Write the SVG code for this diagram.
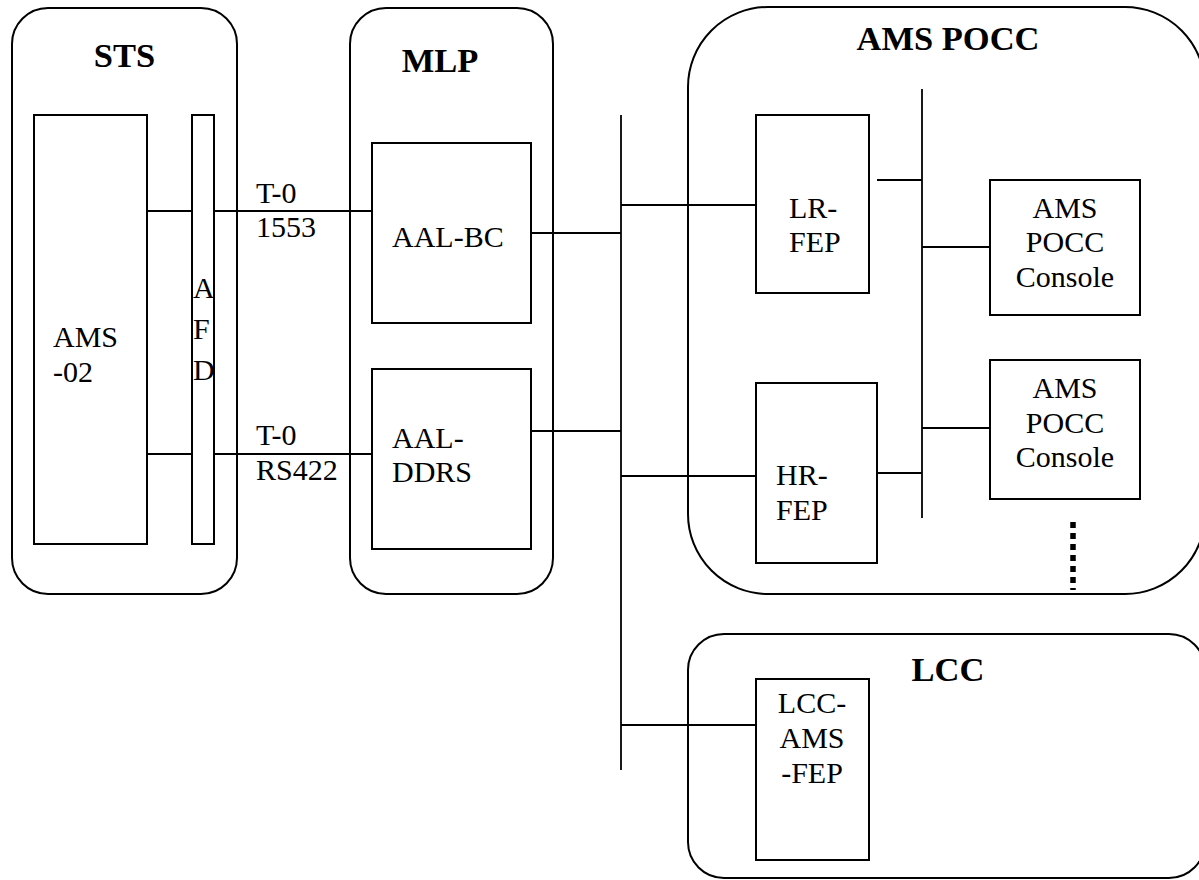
<svg xmlns="http://www.w3.org/2000/svg" width="1199" height="880" viewBox="0 0 1199 880">
<style>
.c{fill:none;stroke:#000;stroke-width:2}
.b{fill:#fff;stroke:#000;stroke-width:2}
.l{stroke:#000;stroke-width:1.8;fill:none}
.t{font-family:"Liberation Serif","Times New Roman",serif;font-size:30px;fill:#000}
.h{font-family:"Liberation Serif","Times New Roman",serif;font-size:34.5px;font-weight:bold;fill:#000}
.m{text-anchor:middle}
</style>
<rect width="1199" height="880" fill="#fff"/>
<g id="sts">
<rect class="c" x="12" y="8" width="225" height="586" rx="36"/>
<text class="h m" x="124.5" y="67">STS</text>
</g>
<g id="mlp">
<rect class="c" x="350" y="8" width="203" height="586" rx="36"/>
<text class="h m" x="440" y="72">MLP</text>
</g>
<g id="amspocc">
<rect class="c" x="688" y="7" width="517" height="587" rx="80"/>
<text class="h m" x="948" y="50">AMS POCC</text>
</g>
<g id="lcc">
<rect class="c" x="688" y="634" width="517" height="244" rx="36"/>
<text class="h m" x="948" y="681">LCC</text>
</g>
<g id="connectors">
<line class="l" x1="147" y1="211" x2="192" y2="211"/>
<line class="l" x1="214" y1="211" x2="372" y2="211"/>
<line class="l" x1="147" y1="454" x2="192" y2="454"/>
<line class="l" x1="214" y1="454" x2="372" y2="454"/>
<line class="l" x1="531" y1="233" x2="621" y2="233"/>
<line class="l" x1="531" y1="431" x2="621" y2="431"/>
<line class="l" x1="621" y1="115" x2="621" y2="770"/>
<line class="l" x1="621" y1="205" x2="756" y2="205"/>
<line class="l" x1="621" y1="476" x2="756" y2="476"/>
<line class="l" x1="621" y1="725" x2="756" y2="725"/>
<line class="l" x1="922" y1="89" x2="922" y2="518"/>
<line class="l" x1="877" y1="180" x2="922" y2="180"/>
<line class="l" x1="877" y1="473" x2="922" y2="473"/>
<line class="l" x1="922" y1="247" x2="990" y2="247"/>
<line class="l" x1="922" y1="428" x2="990" y2="428"/>
<line x1="1073" y1="522" x2="1073" y2="590" stroke="#000" stroke-width="5.5" stroke-dasharray="6 5"/>
</g>
<g id="ams02">
<rect class="b" x="34" y="115" width="113" height="429"/>
<text class="t" x="53" y="347">AMS</text>
<text class="t" x="53" y="382">-02</text>
</g>
<g id="afd">
<rect class="b" x="192" y="115" width="22" height="429"/>
<text class="t" x="193" y="298">A</text>
<text class="t" x="193" y="339">F</text>
<text class="t" x="193" y="380">D</text>
</g>
<g id="label1553">
<text class="t" x="256" y="203">T-0</text>
<text class="t" x="256" y="237">1553</text>
</g>
<g id="labelrs422">
<text class="t" x="256" y="445">T-0</text>
<text class="t" x="256" y="480">RS422</text>
</g>
<g id="aalbc">
<rect class="b" x="372" y="143" width="159" height="180"/>
<text class="t" x="392" y="247">AAL-BC</text>
</g>
<g id="aalddrs">
<rect class="b" x="372" y="369" width="159" height="180"/>
<text class="t" x="392" y="448">AAL-</text>
<text class="t" x="392" y="482">DDRS</text>
</g>
<g id="lrfep">
<rect class="b" x="756" y="115" width="113" height="178"/>
<text class="t" x="789" y="218">LR-</text>
<text class="t" x="789" y="252">FEP</text>
</g>
<g id="hrfep">
<rect class="b" x="756" y="383" width="121" height="180"/>
<text class="t" x="776" y="485">HR-</text>
<text class="t" x="776" y="520">FEP</text>
</g>
<g id="console1">
<rect class="b" x="990" y="180" width="150" height="135"/>
<text class="t m" x="1065" y="218">AMS</text>
<text class="t m" x="1065" y="252">POCC</text>
<text class="t m" x="1065" y="287">Console</text>
</g>
<g id="console2">
<rect class="b" x="990" y="360" width="150" height="139"/>
<text class="t m" x="1065" y="398">AMS</text>
<text class="t m" x="1065" y="433">POCC</text>
<text class="t m" x="1065" y="467">Console</text>
</g>
<g id="lccamsfep">
<rect class="b" x="756" y="679" width="113" height="181"/>
<text class="t m" x="812" y="713">LCC-</text>
<text class="t m" x="812" y="748">AMS</text>
<text class="t m" x="812" y="783">-FEP</text>
</g>
</svg>
